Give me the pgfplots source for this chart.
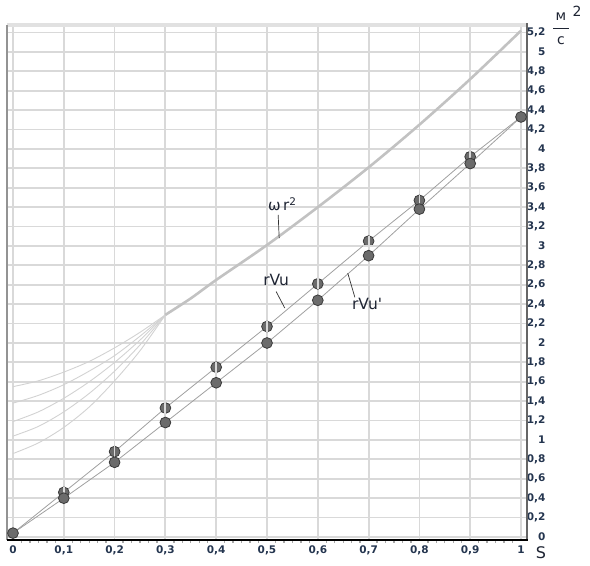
\documentclass[border=0pt]{standalone}
\usepackage{fontspec}
\setmainfont{DejaVu Sans}
\newfontfamily\plainfont{DejaVu Sans}
\usepackage{pgfplots}
\pgfplotsset{compat=1.18}
\definecolor{gridc}{HTML}{D9D9D9}
\definecolor{mfill}{HTML}{6B6B6B}
\definecolor{mdraw}{HTML}{3A3A3A}
\definecolor{linec}{HTML}{A0A0A0}
\definecolor{curvec}{HTML}{C2C2C2}
\definecolor{thinc}{HTML}{D2D2D2}
\definecolor{tickc}{HTML}{24354F}
\definecolor{txtc}{HTML}{1E2433}
\begin{document}
\begin{tikzpicture}
\begin{axis}[name=ax, scale only axis, width=520pt, height=515pt,
  xmin=-0.0118, xmax=1.0118, ymin=-0.031, ymax=5.278,
  axis line style={draw=none},
  clip=false,
  grid=major, major grid style={draw=gridc, line width=1.8pt},
  xtick={0,0.1,0.2,0.3,0.4,0.5,0.6,0.7,0.8,0.9,1},
  ytick={0,0.2,0.4,0.6,0.8,1,1.2,1.4,1.6,1.8,2,2.2,2.4,2.6,2.8,3,3.2,3.4,3.6,3.8,4,4.2,4.4,4.6,4.8,5,5.2},
  minor x tick num=5,
  xtick pos=bottom, ytick pos=right, yticklabel pos=right,
  tick align=outside,
  major tick length=0pt, minor tick length=3pt,
  minor tick style={draw=gray!70, line width=1.3pt},
  xticklabel style={font=\fontsize{10.5}{11}\selectfont\bfseries, text=tickc, yshift=-2pt},
  yticklabel style={font=\fontsize{10.5}{11}\selectfont\bfseries, text=tickc, anchor=east, xshift=22pt},
  yticklabel={\pgfmathprintnumber{\tick}},
  /pgf/number format/.cd, use comma, 1000 sep={}, assume math mode=true,
]
% thin convergence curves
\addplot[thinc, line width=0.9pt, smooth] coordinates {(0,1.55) (0.05,1.61) (0.1,1.70) (0.15,1.81) (0.2,1.95) (0.25,2.11) (0.3,2.29)};
\addplot[thinc, line width=0.9pt, smooth] coordinates {(0,1.38) (0.05,1.46) (0.1,1.57) (0.15,1.71) (0.2,1.87) (0.25,2.07) (0.3,2.29)};
\addplot[thinc, line width=0.9pt, smooth] coordinates {(0,1.19) (0.05,1.29) (0.1,1.43) (0.15,1.60) (0.2,1.80) (0.25,2.03) (0.3,2.29)};
\addplot[thinc, line width=0.9pt, smooth] coordinates {(0,1.04) (0.05,1.14) (0.1,1.29) (0.15,1.48) (0.2,1.71) (0.25,1.98) (0.3,2.29)};
\addplot[thinc, line width=0.9pt, smooth] coordinates {(0,0.86) (0.05,0.97) (0.1,1.13) (0.15,1.34) (0.2,1.61) (0.25,1.92) (0.3,2.29)};
% omega r^2
\addplot[curvec, line width=2.6pt, smooth] coordinates {(0.3,2.29) (0.35,2.46) (0.4,2.65) (0.5,3.01) (0.6,3.40) (0.7,3.81) (0.8,4.25) (0.9,4.72) (1.0,5.22)};
% rVu line
\addplot[linec, line width=0.8pt] coordinates {(0,0.04) (0.1,0.46) (0.2,0.88) (0.3,1.33) (0.4,1.75) (0.5,2.17) (0.6,2.61) (0.7,3.05) (0.8,3.47) (0.9,3.92) (1.0,4.33)};
% rVu' line
\addplot[linec, line width=0.8pt] coordinates {(0,0.04) (0.1,0.40) (0.2,0.77) (0.3,1.18) (0.4,1.59) (0.5,2.0) (0.6,2.44) (0.7,2.90) (0.8,3.38) (0.9,3.85) (1.0,4.33)};
% rVu markers
\addplot[only marks, mark=*, mark size=5.4pt, mark options={fill=mfill, draw=mdraw, line width=0.8pt}] coordinates {(0.1,0.46) (0.2,0.88) (0.3,1.33) (0.4,1.75) (0.5,2.17) (0.6,2.61) (0.7,3.05) (0.8,3.47) (0.9,3.92)};
\addplot[only marks, mark=|, mark size=5.6pt, mark options={draw=gridc, line width=1.8pt}] coordinates {(0.1,0.46) (0.2,0.88) (0.3,1.33) (0.4,1.75) (0.5,2.17) (0.6,2.61) (0.7,3.05) (0.8,3.47) (0.9,3.92)};
\addplot[only marks, mark=-, mark size=5.2pt, mark options={draw=gridc, line width=1.8pt}] coordinates {(0.7,3.0)};
% rVu' markers
\addplot[only marks, mark=*, mark size=5.4pt, mark options={fill=mfill, draw=mdraw, line width=0.8pt}] coordinates {(0,0.04) (0.1,0.40) (0.2,0.77) (0.3,1.18) (0.4,1.59) (0.5,2.0) (0.6,2.44) (0.7,2.90) (0.8,3.38) (0.9,3.85) (1.0,4.33)};
% frame
\draw[gridc!80, line width=4pt] (rel axis cs:0,1) -- (rel axis cs:1,1);
\draw[gray!85, line width=1.8pt] (rel axis cs:0,0) -- (rel axis cs:0,1);
\draw[black!60, line width=2.5pt] (rel axis cs:1,0) -- (rel axis cs:1,1.004);
\draw[black, line width=2pt] (rel axis cs:0,0) -- (rel axis cs:1.002,0);
% annotations
\draw[black!80, line width=0.7pt] (axis cs:0.522,3.32) -- (axis cs:0.524,3.08);
\node[text=txtc, font=\fontsize{15}{16}\selectfont] at (axis cs:0.53,3.43) {ω\,r\textsuperscript{2}};
\draw[black!80, line width=0.7pt] (axis cs:0.518,2.53) -- (axis cs:0.535,2.36);
\node[text=txtc, font=\fontsize{15.5}{16}\selectfont] at (axis cs:0.518,2.65) {rVu};
\draw[black!80, line width=0.7pt] (axis cs:0.659,2.72) -- (axis cs:0.673,2.47);
\node[text=txtc, font=\fontsize{15.5}{16}\selectfont\plainfont] at (axis cs:0.697,2.40) {rVu'};
\end{axis}
\node[text=txtc, font=\fontsize{16}{17}\selectfont] at ([xshift=14pt,yshift=-13pt]ax.south east) {S};
\node[text=txtc, font=\fontsize{14}{15}\selectfont] at ([xshift=34pt,yshift=8pt]ax.north east) {м};
\node[text=txtc, font=\fontsize{14}{15}\selectfont] at ([xshift=50pt,yshift=14pt]ax.north east) {2};
\draw[txtc, line width=0.8pt] ([xshift=26pt,yshift=-3pt]ax.north east) -- ([xshift=42pt,yshift=-3pt]ax.north east);
\node[text=txtc, font=\fontsize{14}{15}\selectfont] at ([xshift=34pt,yshift=-16pt]ax.north east) {с};
\pgfresetboundingbox
\path ([xshift=-7pt,yshift=-25pt]ax.south west) rectangle ([xshift=63pt,yshift=25pt]ax.north east);
\end{tikzpicture}
\end{document}
